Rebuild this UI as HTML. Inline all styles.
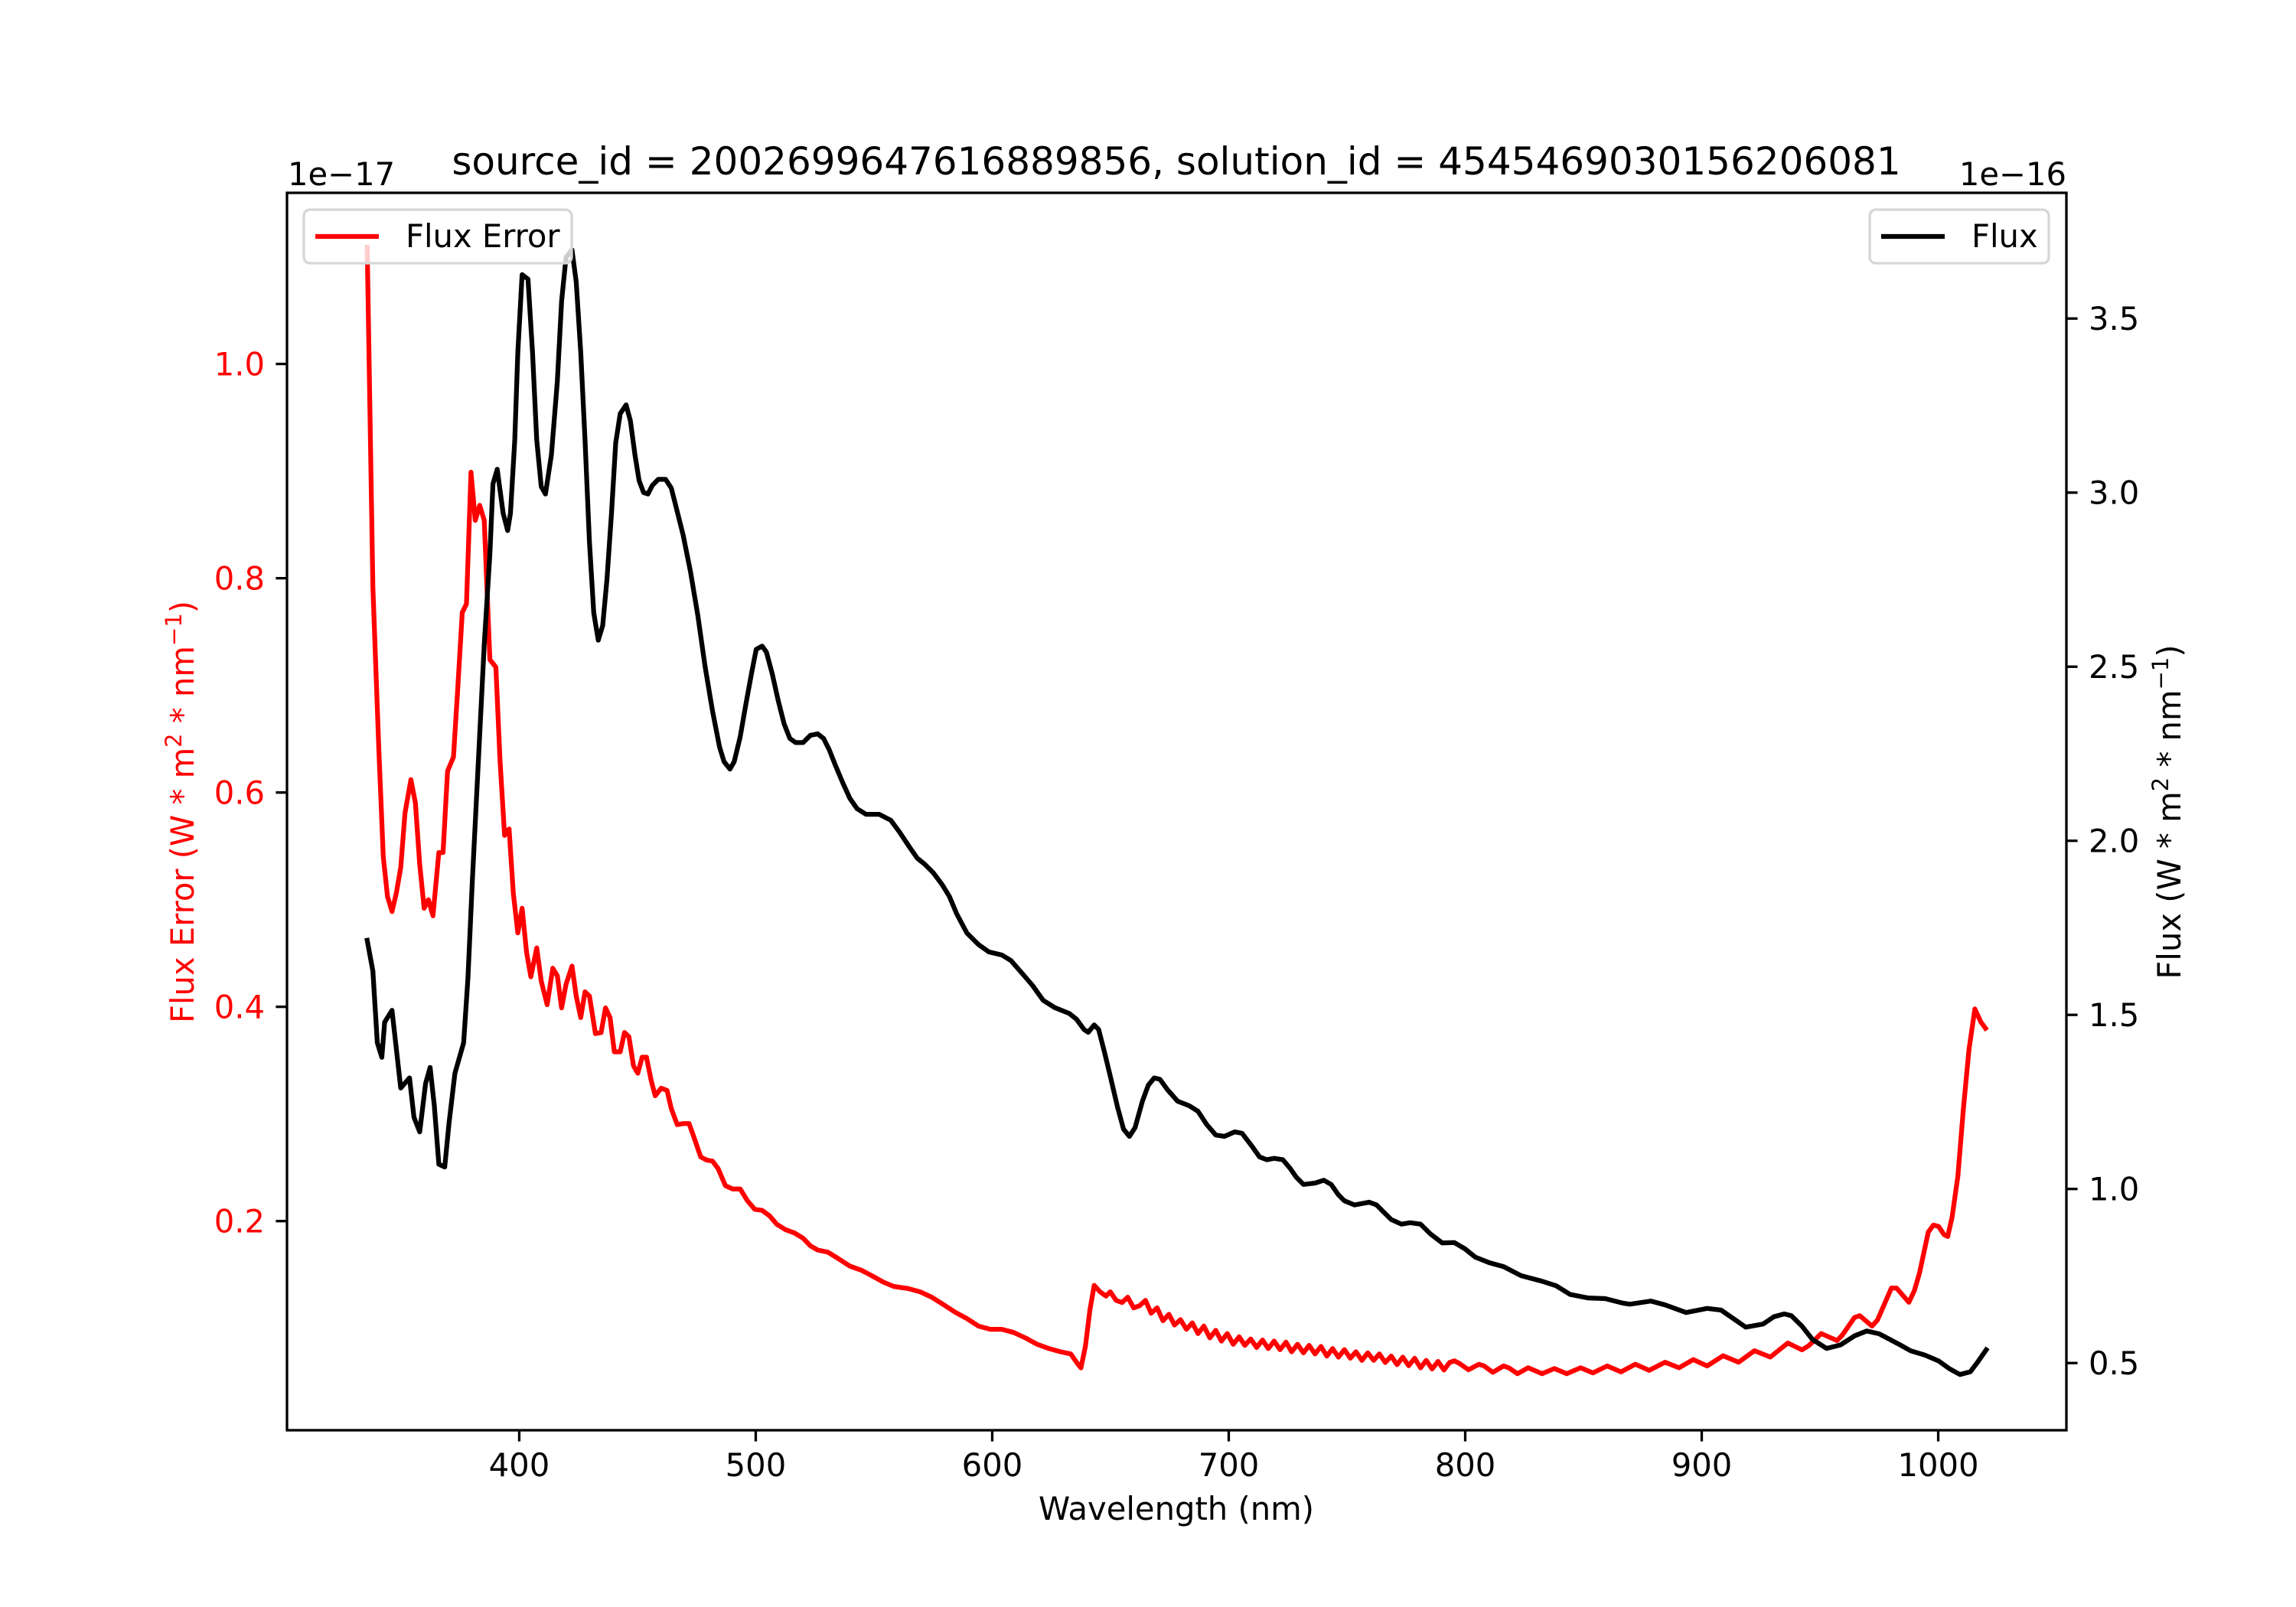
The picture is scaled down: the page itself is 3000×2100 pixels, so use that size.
<!DOCTYPE html>
<html><head><meta charset="utf-8"><style>
html,body{margin:0;padding:0;background:#fff;}
svg{display:block;font-family:"DejaVu Sans","Liberation Sans",sans-serif;}
</style></head>
<body>
<svg id="chart" width="3000" height="2100" viewBox="0 0 3000 2100" xmlns="http://www.w3.org/2000/svg">
<rect width="3000" height="2100" fill="#fff"/>
<g id="plot"></g>
<text x="1537" y="228" font-size="50" text-anchor="middle">source_id = 2002699647616889856, solution_id = 4545469030156206081</text>
<text x="376" y="242" font-size="41.7">1e−17</text>
<text x="2700" y="242" font-size="41.7" text-anchor="end">1e−16</text>
<text x="1537" y="1986" font-size="41.7" text-anchor="middle">Wavelength (nm)</text>
<text transform="translate(253,1061) rotate(-90)" font-size="41.7" text-anchor="middle" fill="#ff0000">Flux Error (W * m<tspan font-size="29" dy="-16">2</tspan><tspan dy="16"> * nm</tspan><tspan font-size="29" dy="-16">−1</tspan><tspan dy="16">)</tspan></text>
<text transform="translate(2849,1061) rotate(-90)" font-size="41.7" text-anchor="middle">Flux (W * m<tspan font-size="29" dy="-16">2</tspan><tspan dy="16"> * nm</tspan><tspan font-size="29" dy="-16">−1</tspan><tspan dy="16">)</tspan></text>
<g>
<rect x="397" y="274" width="350" height="70" rx="8" fill="#fff" fill-opacity="0.8" stroke="#d6d6d6" stroke-width="3.3"/>
<line x1="412" y1="309" x2="495" y2="309" stroke="#ff0000" stroke-width="6.25"/>
<text x="530" y="323" font-size="41.7">Flux Error</text>
</g>
<g>
<rect x="2443" y="274" width="234" height="70" rx="8" fill="#fff" fill-opacity="0.8" stroke="#d6d6d6" stroke-width="3.3"/>
<line x1="2458" y1="309" x2="2541" y2="309" stroke="#000" stroke-width="6.25"/>
<text x="2576" y="323" font-size="41.7">Flux</text>
</g>
</svg>
<script>
const xTicks=[400,500,600,700,800,900,1000];
const leftTicks=[0.2,0.4,0.6,0.8,1.0];
const leftTickLabels=["0.2","0.4","0.6","0.8","1.0"];
const rightTicks=[0.5,1.0,1.5,2.0,2.5,3.0,3.5];
const rightTickLabels=["0.5","1.0","1.5","2.0","2.5","3.0","3.5"];
const fluxWl=[335.7,338.1,340.0,341.9,343.1,346.2,349.9,353.6,355.5,357.9,360.4,362.3,364.1,366.0,368.5,370.3,372.8,376.5,378.3,380.2,382.7,385.2,387.6,388.9,390.7,393.2,395.1,396.3,398.1,399.4,401.2,403.7,405.6,407.4,409.3,411.1,413.6,416.1,417.9,419.8,422.3,424.1,426.0,427.8,429.7,431.5,433.4,435.3,437.1,439.0,440.8,442.7,445.2,447.0,448.9,450.7,452.6,454.4,456.3,458.8,461.9,464.3,466.2,469.3,472.4,475.5,478.6,481.7,484.7,486.6,489.1,490.9,493.4,495.9,498.4,500.2,502.7,504.5,507.0,509.5,512.0,514.4,516.9,520.0,523.1,526.2,528.7,531.1,533.6,536.7,539.8,542.9,546.6,552.2,557.1,560.8,564.5,568.3,571.4,575.1,578.8,581.9,585.0,589.3,594.2,598.6,604.1,607.9,612.8,617.1,621.5,626.4,632.6,635.7,638.8,640.6,643.1,645.0,647.4,649.9,653.0,655.5,658.0,660.4,663.5,666.0,668.5,670.9,674.0,678.4,683.3,687.0,690.7,694.5,698.2,702.5,705.6,709.9,713.0,716.1,719.2,722.9,726.0,728.5,731.6,736.5,740.2,743.3,746.4,748.9,753.2,756.3,759.4,762.5,765.6,768.7,773.0,776.7,781.1,785.4,790.3,795.4,799.9,804.3,810.3,816.2,823.6,832.5,838.4,844.4,851.8,859.2,866.6,869.6,878.5,884.5,893.4,902.3,908.2,918.6,926.0,930.5,934.9,937.9,942.4,946.8,952.8,958.7,964.6,969.8,975.0,979.5,983.9,988.4,994.3,1000.2,1004.7,1009.2,1013.6,1016.6,1020.3];
const fluxVals=[1.714,1.626,1.420,1.378,1.479,1.513,1.290,1.319,1.206,1.164,1.303,1.349,1.239,1.071,1.063,1.189,1.332,1.420,1.605,1.891,2.227,2.563,2.824,3.025,3.067,2.941,2.891,2.941,3.151,3.403,3.626,3.613,3.403,3.151,3.017,2.996,3.109,3.319,3.550,3.676,3.697,3.605,3.403,3.151,2.857,2.655,2.576,2.618,2.752,2.941,3.143,3.227,3.252,3.206,3.109,3.034,3.000,2.996,3.021,3.038,3.038,3.013,2.962,2.878,2.773,2.647,2.500,2.374,2.269,2.227,2.206,2.227,2.298,2.395,2.487,2.550,2.559,2.542,2.479,2.403,2.336,2.294,2.282,2.282,2.303,2.307,2.294,2.261,2.218,2.168,2.122,2.092,2.076,2.076,2.059,2.025,1.987,1.950,1.933,1.908,1.874,1.840,1.790,1.735,1.702,1.681,1.672,1.656,1.618,1.584,1.542,1.521,1.504,1.487,1.458,1.450,1.471,1.458,1.395,1.324,1.235,1.172,1.151,1.176,1.252,1.298,1.319,1.315,1.286,1.252,1.239,1.223,1.185,1.155,1.151,1.164,1.160,1.122,1.092,1.084,1.088,1.084,1.059,1.034,1.013,1.017,1.025,1.013,0.983,0.966,0.954,0.958,0.962,0.954,0.933,0.912,0.899,0.903,0.899,0.870,0.845,0.846,0.828,0.804,0.788,0.777,0.751,0.735,0.722,0.697,0.687,0.685,0.672,0.669,0.678,0.667,0.645,0.657,0.652,0.603,0.612,0.633,0.641,0.636,0.606,0.568,0.542,0.552,0.578,0.592,0.584,0.568,0.552,0.535,0.523,0.506,0.484,0.467,0.475,0.502,0.538];
const errWl=[335.7,338.1,340.6,342.5,344.3,346.2,348.0,349.9,351.7,354.2,356.1,357.9,359.8,361.6,363.5,366.0,367.8,369.7,372.2,374.0,375.9,377.7,379.6,381.4,383.3,385.2,387.6,390.1,391.9,393.8,395.7,397.5,399.4,401.2,403.1,404.9,407.4,409.3,411.8,414.2,416.1,417.9,419.8,422.3,424.1,426.0,427.8,429.7,432.2,434.6,436.5,438.4,440.2,442.7,444.5,446.4,448.3,450.1,452.0,453.8,455.7,457.5,460.0,462.5,464.3,466.8,469.3,471.8,473.6,476.7,479.2,481.7,484.1,487.2,490.3,493.4,496.5,499.6,502.7,505.8,508.9,512.6,516.3,520.0,523.1,526.2,530.5,534.9,539.8,544.8,549.1,554.0,558.4,564.5,569.5,574.4,579.4,584.3,589.3,594.2,599.2,604.1,609.1,614.0,619.0,624.0,628.9,633.2,635.7,637.5,639.4,641.3,643.1,645.6,648.1,649.9,652.4,654.9,657.3,659.8,662.3,664.8,667.2,669.7,672.2,674.7,677.1,679.6,682.1,684.6,687.0,689.5,692.0,694.5,696.9,699.4,701.9,704.4,706.8,709.3,711.8,714.3,716.7,719.2,721.7,724.2,726.6,729.1,731.6,734.0,736.5,739.0,741.5,743.9,746.4,748.9,751.4,753.8,756.3,758.8,761.3,763.7,766.2,768.7,771.2,773.6,776.1,778.6,781.1,783.5,786.0,788.5,791.0,793.4,795.4,797.6,801.4,805.8,808.0,811.7,816.2,818.4,822.1,826.6,832.5,837.7,842.9,848.8,854.0,860.0,865.9,871.9,877.8,884.5,890.4,896.4,902.3,909.0,915.6,922.3,929.0,936.4,942.4,945.3,950.5,957.2,959.4,964.6,966.8,972.0,974.3,980.2,982.4,987.6,989.9,992.1,995.8,998.0,1000.2,1002.5,1004.0,1005.9,1008.3,1010.6,1013.0,1015.5,1018.0,1020.0];
const errVals=[1.109,0.792,0.642,0.540,0.503,0.489,0.506,0.530,0.581,0.612,0.590,0.533,0.492,0.500,0.485,0.544,0.544,0.620,0.633,0.697,0.768,0.776,0.899,0.854,0.868,0.854,0.724,0.717,0.629,0.560,0.566,0.506,0.469,0.492,0.451,0.428,0.455,0.424,0.402,0.436,0.429,0.399,0.421,0.438,0.410,0.390,0.414,0.410,0.375,0.376,0.399,0.390,0.358,0.358,0.376,0.372,0.345,0.338,0.353,0.353,0.332,0.317,0.324,0.322,0.305,0.290,0.291,0.291,0.280,0.260,0.257,0.256,0.249,0.233,0.230,0.230,0.219,0.211,0.210,0.205,0.197,0.192,0.189,0.184,0.177,0.173,0.171,0.165,0.158,0.154,0.149,0.143,0.139,0.137,0.134,0.129,0.122,0.115,0.109,0.102,0.099,0.099,0.096,0.091,0.085,0.081,0.078,0.076,0.068,0.063,0.083,0.117,0.140,0.134,0.130,0.134,0.126,0.124,0.129,0.119,0.121,0.126,0.114,0.119,0.107,0.113,0.103,0.108,0.099,0.105,0.095,0.102,0.091,0.098,0.088,0.095,0.085,0.092,0.084,0.090,0.082,0.089,0.081,0.088,0.080,0.087,0.078,0.085,0.077,0.084,0.076,0.083,0.074,0.081,0.073,0.080,0.072,0.078,0.070,0.077,0.070,0.076,0.068,0.074,0.066,0.073,0.065,0.072,0.063,0.070,0.062,0.069,0.061,0.068,0.0696,0.0671,0.0612,0.0664,0.0648,0.0589,0.0648,0.0631,0.0576,0.0631,0.0576,0.0624,0.0576,0.0631,0.0583,0.0648,0.0593,0.0664,0.0607,0.0683,0.0631,0.0707,0.0648,0.0743,0.0683,0.0790,0.0731,0.0862,0.0798,0.0838,0.0950,0.0885,0.0935,0.110,0.1117,0.102,0.1076,0.1374,0.1374,0.1242,0.135,0.1516,0.1897,0.1963,0.1949,0.1873,0.1856,0.2039,0.242,0.304,0.360,0.398,0.386,0.380];

const AX={l:375,r:2700,t:252,b:1869};
const xMin=301.8,xMax=1054.2,eMin=0.0048,eMax=1.1597,fMin=0.307,fMax=3.861;
const xS=v=>AX.l+(v-xMin)/(xMax-xMin)*(AX.r-AX.l);
const yE=v=>AX.b-(v-eMin)/(eMax-eMin)*(AX.b-AX.t);
const yF=v=>AX.b-(v-fMin)/(fMax-fMin)*(AX.b-AX.t);
const NS="http://www.w3.org/2000/svg";
const plot=document.getElementById('plot');
function mk(tag,attrs,parent){const e=document.createElementNS(NS,tag);for(const k in attrs)e.setAttribute(k,attrs[k]);(parent||plot).appendChild(e);return e;}

const errLine=mk('polyline',{points:errWl.map((w,i)=>xS(w).toFixed(1)+','+yE(errVals[i]).toFixed(1)).join(' '),fill:'none',stroke:'#ff0000','stroke-width':6.25,'stroke-linejoin':'round','stroke-linecap':'square'});


const fluxLine=mk('polyline',{points:fluxWl.map((w,i)=>xS(w).toFixed(1)+','+yF(fluxVals[i]).toFixed(1)).join(' '),fill:'none',stroke:'#000','stroke-width':6.25,'stroke-linejoin':'round','stroke-linecap':'square'});



const frame=mk('rect',{x:AX.l,y:AX.t,width:AX.r-AX.l,height:AX.b-AX.t,fill:'none',stroke:'#000','stroke-width':3.3});



xTicks.forEach(v=>{
  const x=xS(v);
  const t=mk('line',{x1:x,y1:AX.b,x2:x,y2:AX.b+14.6,stroke:'#000','stroke-width':3.3});
  
  
  const l=mk('text',{x:x,y:AX.b+60,'font-size':41.7,'text-anchor':'middle'});
  l.textContent=String(v);
  
  
});
leftTicks.forEach((v,i)=>{
  const y=yE(v);
  const t=mk('line',{x1:AX.l-14.6,y1:y,x2:AX.l,y2:y,stroke:'#000','stroke-width':3.3});
  
  
  const l=mk('text',{x:AX.l-29,y:y+15,'font-size':41.7,'text-anchor':'end',fill:'#ff0000'});
  l.textContent=leftTickLabels[i];
  
  
});
rightTicks.forEach((v,i)=>{
  const y=yF(v);
  const t=mk('line',{x1:AX.r,y1:y,x2:AX.r+14.6,y2:y,stroke:'#000','stroke-width':3.3});
  
  
  const l=mk('text',{x:AX.r+29,y:y+15,'font-size':41.7,'text-anchor':'start'});
  l.textContent=rightTickLabels[i];
  
  
});
</script>
</body></html>
